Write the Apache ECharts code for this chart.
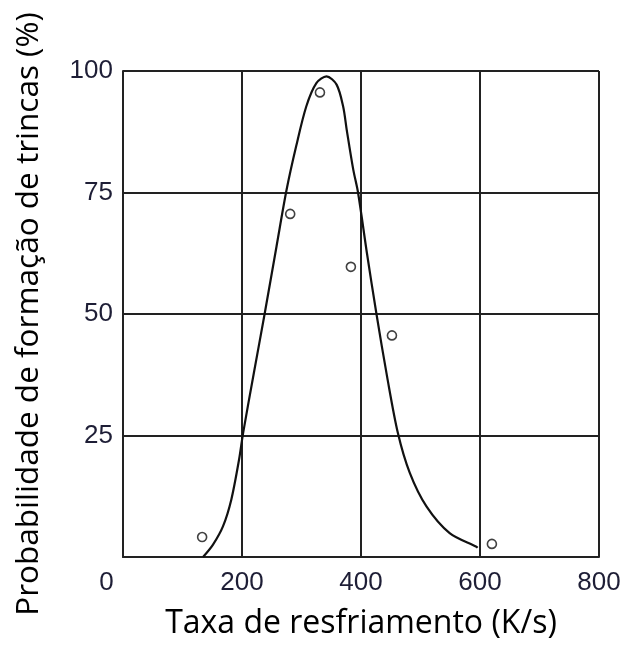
<!DOCTYPE html>
<html>
<head>
<meta charset="utf-8">
<script src="https://cdn.jsdelivr.net/npm/echarts@6/dist/echarts.min.js"></script>
<style>html,body{margin:0;padding:0;background:#fff}#c{width:630px;height:646px}</style>
</head>
<body>
<div id="c"></div>
<script>
// Observed data points (cooling rate K/s, crack probability %)
const pointX = [133, 281, 331, 383, 452, 620];
const pointY = [4.1, 70.6, 95.6, 59.7, 45.6, 2.7];
// Fitted curve
const curveX = [134.5, 151, 168, 182, 195, 202, 220, 238, 258, 275, 291, 308, 325, 342, 359, 370, 376, 387, 395, 410, 426, 444, 462, 482, 510, 549, 594, 596];
const curveY = [0, 2.5, 6.3, 11.8, 20, 25.6, 37.9, 50, 63.9, 75.6, 84.5, 92.7, 97.5, 98.9, 97.2, 92.7, 87.9, 79.7, 75, 62.5, 50, 37, 25.5, 17.3, 10.4, 4.9, 2.1, 1.9];
const xTicks = [0, 200, 400, 600, 800];
const yTicks = [0, 25, 50, 75, 100];
const xTitle = 'Taxa de resfriamento (K/s)';
const yTitle = 'Probabilidade de formação de trincas (%)';

const chart = echarts.init(document.getElementById('c'), null, {renderer: 'canvas'});
const lineStyle = {color: '#222', width: 2};
const labelFont = {fontFamily: 'Liberation Sans', fontSize: 26, color: '#1e1e36'};
chart.setOption({
  animation: false,
  backgroundColor: '#fff',
  grid: {left: 123, right: 31, top: 71, bottom: 89, show: false},
  xAxis: {
    type: 'value', min: xTicks[0], max: xTicks[xTicks.length - 1], interval: 200,
    axisLine: {show: true, lineStyle: lineStyle},
    axisTick: {show: false},
    splitLine: {show: true, lineStyle: lineStyle},
    axisLabel: Object.assign({}, labelFont, {
      margin: 13,
      formatter: v => v === 0 ? '{z|0}' : String(v),
      rich: {z: Object.assign({}, labelFont, {padding: [0, 33, 0, 0]})}
    }),
    name: xTitle, nameLocation: 'middle', nameGap: 51,
    nameTextStyle: {fontFamily: 'Open Sans', fontSize: 32, color: '#000'}
  },
  yAxis: {
    type: 'value', min: yTicks[0], max: yTicks[yTicks.length - 1], interval: 25,
    axisLine: {show: true, lineStyle: lineStyle},
    axisTick: {show: false},
    splitLine: {show: true, lineStyle: lineStyle},
    axisLabel: Object.assign({}, labelFont, {
      margin: 10,
      formatter: v => v === 0 ? '' : String(v)
    }),
    name: yTitle, nameLocation: 'middle', nameGap: 78,
    nameTextStyle: {fontFamily: 'Open Sans', fontSize: 31.5, color: '#000'}
  },
  series: [
    {
      type: 'line', smooth: 0.3, symbol: 'none',
      data: curveX.map((x, i) => [x, curveY[i]]),
      lineStyle: {color: '#111', width: 2.2},
      z: 3
    },
    {
      type: 'scatter', symbol: 'circle', symbolSize: 9,
      data: pointX.map((x, i) => [x, pointY[i]]),
      itemStyle: {color: '#fff', borderColor: '#111', borderWidth: 1.6},
      z: 4
    }
  ]
});
</script>
</body>
</html>
